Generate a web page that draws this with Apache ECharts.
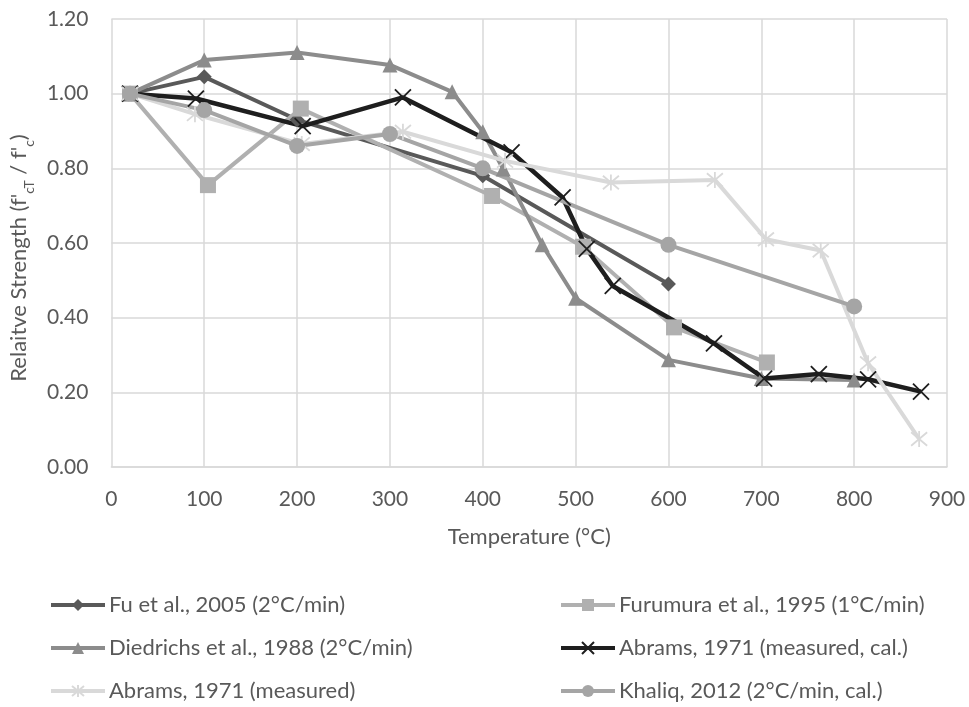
<!DOCTYPE html>
<html>
<head>
<meta charset="utf-8">
<script src="https://cdn.jsdelivr.net/npm/echarts@6/dist/echarts.min.js"></script>
<style>html,body{margin:0;padding:0;background:#fff}#c{width:969px;height:707px}</style>
</head>
<body>
<div id="c"></div>
<script>
// ---- data ----
const seriesNames = [
  'Fu et al., 2005 (2°C/min)',
  'Furumura et al., 1995 (1°C/min)',
  'Diedrichs et al., 1988 (2°C/min)',
  'Abrams, 1971 (measured, cal.)',
  'Abrams, 1971 (measured)',
  'Khaliq, 2012 (2°C/min, cal.)'
];
const fuX = [20, 100, 200, 400, 600];
const fuY = [1.00, 1.045, 0.93, 0.78, 0.49];
const furX = [20, 104, 204, 410, 508, 606, 706];
const furY = [1.00, 0.755, 0.96, 0.726, 0.59, 0.374, 0.28];
const dieX = [20, 100, 200, 300, 367, 400, 422, 464, 500, 600, 700, 800];
const dieY = [1.00, 1.09, 1.11, 1.077, 1.005, 0.898, 0.798, 0.595, 0.452, 0.287, 0.237, 0.233];
const abcX = [20, 91, 206, 314, 431, 486, 512, 540, 649, 703, 762, 815, 872];
const abcY = [1.00, 0.987, 0.913, 0.990, 0.843, 0.722, 0.584, 0.485, 0.331, 0.237, 0.249, 0.235, 0.202];
const abmX = [20, 90, 205, 314, 424, 538, 650, 705, 764, 815, 870];
const abmY = [1.00, 0.945, 0.865, 0.898, 0.82, 0.762, 0.769, 0.61, 0.58, 0.278, 0.075];
const khaX = [20, 100, 200, 300, 400, 600, 800];
const khaY = [1.00, 0.956, 0.86, 0.892, 0.80, 0.595, 0.43];
const xTicks = {min: 0, max: 900, step: 100};
const yTicks = {min: 0, max: 1.2, step: 0.2};

const pair = (xs, ys) => xs.map((x, i) => [x, ys[i]]);
const FONT = 'Lato';
const FS = 22;
const TXT = '#595959';
const X_PATH = 'path://M0,0 L10,10 M10,0 L0,10';
const AST_PATH = 'path://M5,0 L5,10 M0.8,0.8 L9.2,9.2 M9.2,0.8 L0.8,9.2';

function mk(name, data, color, symbol, size, width, stroke) {
  const s = {
    name, type: 'line', data, symbol, symbolSize: size,
    showSymbol: true, animation: false,
    lineStyle: {color, width},
    itemStyle: {color, borderColor: color, borderWidth: 0},
    emphasis: {disabled: true}
  };
  if (stroke) s.itemStyle = {color: 'none', borderColor: color, borderWidth: stroke};
  return s;
}

const legendCommon = {
  orient: 'vertical', top: 593, height: 114, padding: 0, itemWidth: 54, itemHeight: 15, itemGap: 19,
  lineStyle: {width: 4},
  textStyle: {fontFamily: FONT, fontSize: FS, color: TXT, lineHeight: 24, padding: [0, 0, 0, -1]}
};

const chart = echarts.init(document.getElementById('c'), null, {renderer: 'canvas'});
chart.setOption({
  backgroundColor: '#fff',
  textStyle: {fontFamily: FONT},
  grid: {left: 110, right: 22, top: 19, bottom: 240},
  xAxis: {
    type: 'value', min: xTicks.min, max: xTicks.max, interval: xTicks.step,
    name: 'Temperature (°C)', nameLocation: 'middle', nameGap: 59,
    nameTextStyle: {fontFamily: FONT, fontSize: FS, color: TXT},
    axisLine: {show: true, lineStyle: {color: '#D9D9D9', width: 1.5}},
    axisTick: {show: false},
    axisLabel: {fontFamily: FONT, fontSize: 21, color: TXT, margin: 22},
    splitLine: {show: true, lineStyle: {color: '#D9D9D9', width: 1.5}}
  },
  yAxis: {
    type: 'value', min: yTicks.min, max: yTicks.max, interval: yTicks.step,
    name: "{n|Relaitve Strength (f'}{s|cT}{n| / f'}{s|c}{n|)}",
    nameLocation: 'middle', nameGap: 74, nameRotate: 90,
    nameTextStyle: {
      color: TXT, align: 'center', padding: [0, 30, 0, 0],
      rich: {
        n: {fontFamily: FONT, fontSize: FS, color: TXT, lineHeight: 28, verticalAlign: 'top'},
        s: {fontFamily: FONT, fontSize: 14, color: TXT, lineHeight: 14, verticalAlign: 'bottom'}
      }
    },
    axisLine: {show: false}, axisTick: {show: false},
    axisLabel: {fontFamily: FONT, fontSize: 21, color: TXT, margin: 23, formatter: v => v.toFixed(2)},
    splitLine: {show: true, lineStyle: {color: '#D9D9D9', width: 1.5}}
  },
  legend: [
    Object.assign({}, legendCommon, {left: 49, data: [seriesNames[0], seriesNames[2], seriesNames[4]]}),
    Object.assign({}, legendCommon, {left: 559, data: [seriesNames[1], seriesNames[3], seriesNames[5]]})
  ],
  series: [
    mk(seriesNames[0], pair(fuX, fuY), '#595959', 'diamond', 15, 4),
    mk(seriesNames[1], pair(furX, furY), '#B0B0B0', 'rect', 16, 4),
    mk(seriesNames[2], pair(dieX, dieY), '#8C8C8C', 'triangle', 15, 4),
    mk(seriesNames[3], pair(abcX, abcY), '#1E1E1E', X_PATH, 16, 4.5, 1.8),
    mk(seriesNames[4], pair(abmX, abmY), '#D9D9D9', AST_PATH, 16, 4, 1.8),
    mk(seriesNames[5], pair(khaX, khaY), '#A5A5A5', 'circle', 16, 4)
  ]
});
</script>
</body>
</html>
